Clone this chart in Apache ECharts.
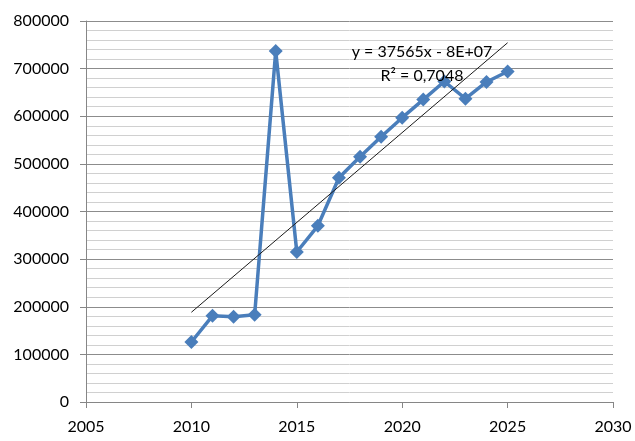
<!DOCTYPE html>
<html><head><meta charset="utf-8">
<script src="https://cdn.jsdelivr.net/npm/echarts@6/dist/echarts.min.js"></script>
<style>html,body{margin:0;padding:0;background:#fff}#c{width:635px;height:441px}</style>
</head><body><div id="c"></div>
<script>
const years = [2010,2011,2012,2013,2014,2015,2016,2017,2018,2019,2020,2021,2022,2023,2024,2025];
const values = [126000,181000,179000,183000,737000,315000,370000,471000,515000,557000,597000,635000,673000,637000,672000,694000];
const trendLabel = "y = 37565x - 8E+07";
const r2Label = "R² = 0,7048";

// least squares trendline from the data
const n = years.length;
const mx = years.reduce((a,b)=>a+b,0)/n;
const my = values.reduce((a,b)=>a+b,0)/n;
let sxy=0,sxx=0;
for(let i=0;i<n;i++){sxy+=(years[i]-mx)*(values[i]-my);sxx+=(years[i]-mx)**2;}
const slope=sxy/sxx, icpt=my-slope*mx;
const x0=years[0], x1=years[n-1];
const trend=[[x0,slope*x0+icpt],[x1,slope*x1+icpt]];

const FONT = 'Lato';
const chart = echarts.init(document.getElementById('c'));
chart.setOption({
  animation:false,
  grid:{left:86,right:22,top:21,bottom:39},
  xAxis:{type:'value',min:2005,max:2030,interval:5,
    axisLine:{lineStyle:{color:'#868686'}},
    axisTick:{show:true,length:6,lineStyle:{color:'#868686'}},
    axisLabel:{color:'#000',fontFamily:FONT,fontSize:16,margin:17,formatter:v=>String(v)},
    splitLine:{show:false}},
  yAxis:{type:'value',min:0,max:800000,interval:100000,
    axisLine:{show:true,lineStyle:{color:'#868686'}},
    axisTick:{show:true,length:6,lineStyle:{color:'#868686'}},
    axisLabel:{color:'#000',fontFamily:FONT,fontSize:16,margin:17,formatter:v=>String(v)},
    splitLine:{show:true,lineStyle:{color:'#8c8c8c',width:1}},
    minorTick:{show:false,splitNumber:5},
    minorSplitLine:{show:true,lineStyle:{color:'#d0d0d0',width:1}}},
  series:[
    {type:'line',data:years.map((y,i)=>[y,values[i]]),
     lineStyle:{color:'#4a7ebb',width:3.5},itemStyle:{color:'#4a7ebb'},
     symbol:'diamond',symbolSize:14,z:3},
    {type:'line',data:trend,symbol:'none',lineStyle:{color:'#1a1a1a',width:1},z:4}
  ],
  graphic:[
    {type:'text',x:422,y:52,style:{text:trendLabel,fontFamily:FONT,fontSize:16,fill:'#000',align:'center',verticalAlign:'middle'},z:10},
    {type:'text',x:422,y:76,style:{text:r2Label,fontFamily:FONT,fontSize:16,fill:'#000',align:'center',verticalAlign:'middle'},z:10}
  ]
});
</script></body></html>
